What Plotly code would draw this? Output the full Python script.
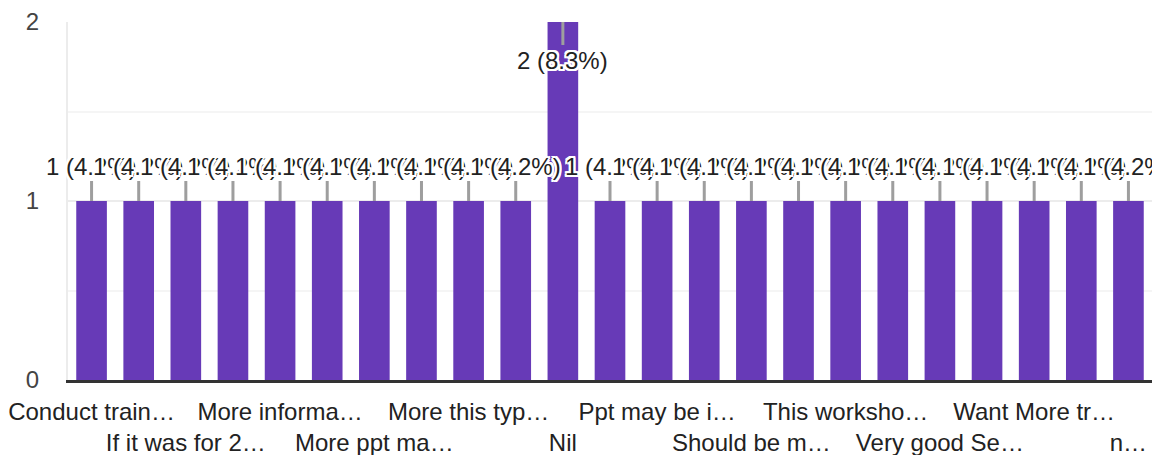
import plotly.graph_objects as go

# 23 response categories (alphabetical); only every other one shows a (truncated) tick label
categories = [
    "Conduct train…", "Response 2", "If it was for 2…", "Response 4",
    "More informa…", "Response 6", "More ppt ma…", "Response 8",
    "More this typ…", "Response 10", "Nil", "Response 12",
    "Ppt may be i…", "Response 14", "Should be m…", "Response 16",
    "This worksho…", "Response 18", "Very good Se…", "Response 20",
    "Want More tr…", "Response 22", "n…",
]
counts = [1, 1, 1, 1, 1, 1, 1, 1, 1, 1, 2, 1, 1, 1, 1, 1, 1, 1, 1, 1, 1, 1, 1]
y_ticks = [0, 1, 2]

total = sum(counts)
labels = [f"{c} ({c / total * 100:.1f}%)" for c in counts]

PURPLE = "#673ab7"
FONT = "Liberation Sans, Arial, sans-serif"
halo = ", ".join(f"{dx}px {dy}px 0 #fff" for dx, dy in
                 [(-2, 0), (2, 0), (0, -2), (0, 2), (-2, -2), (2, 2), (-2, 2), (2, -2),
                  (-1, -2), (1, 2), (-2, 1), (2, -1)])

fig = go.Figure(go.Bar(x=categories, y=counts, marker_color=PURPLE, marker_line_width=0,
                       hoverinfo="x+y"))

ymax = max(counts)
annotations = []
for cat, c, lab in zip(categories, counts, labels):
    at_top = c == ymax
    annotations.append(dict(
        x=cat, y=c, xref="x", yref="y", text=lab,
        showarrow=True, arrowhead=0, arrowwidth=3, arrowcolor="#9e9e9e",
        ax=0, ay=(38 if at_top else -35),
        font=dict(family=FONT, size=24, color="#222", shadow=halo),
    ))

tickvals = categories[::2]
ticktext = [(t if i % 2 == 0 else "<br>" + t) for i, t in enumerate(tickvals)]

# the page body adds an 8px offset, so the figure is sized to fit the 1160x455 window
fig.update_layout(
    width=1152, height=447,
    margin=dict(l=60, r=8, t=14, b=75),
    paper_bgcolor="white", plot_bgcolor="white",
    bargap=0.35, showlegend=False,
    font=dict(family=FONT, color="#222"),
    annotations=annotations,
    xaxis=dict(
        type="category", tickmode="array", tickvals=tickvals, ticktext=ticktext,
        range=[-0.5, len(categories) - 0.5], autorange=False,
        tickangle=0, tickfont=dict(size=24, color="#222"), automargin=False,
        showline=True, linecolor="#333", linewidth=3,
        showgrid=False, ticks="", ticklabelstandoff=8,
    ),
    yaxis=dict(
        range=[0, 2], tickmode="array", tickvals=y_ticks, automargin=False,
        tickfont=dict(size=24, color="#444"),
        showgrid=True, gridcolor="#ececec", gridwidth=2,
        minor=dict(dtick=0.5, showgrid=True, gridcolor="#f5f5f5", gridwidth=2),
        showline=True, mirror=True, linecolor="#ececec", linewidth=2,
        zeroline=False, ticks="", ticklabelstandoff=22,
    ),
)

fig.write_html("out.html")
